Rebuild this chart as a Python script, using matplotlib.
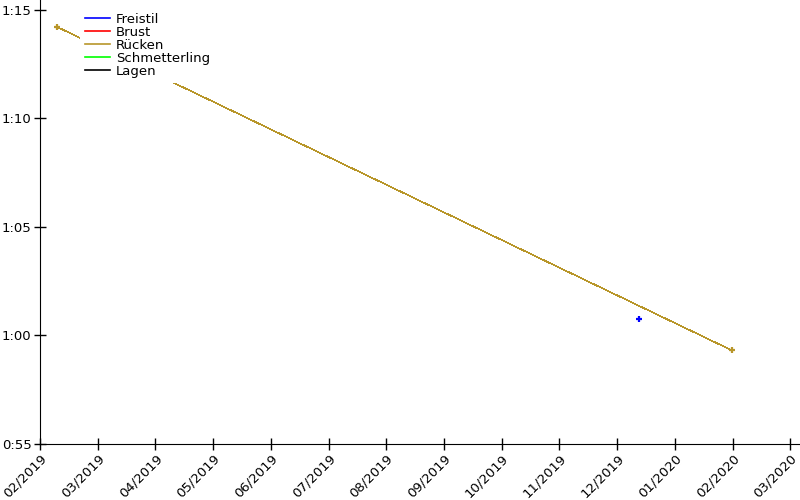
import datetime as dt

import matplotlib
matplotlib.use("Agg")
import matplotlib.pyplot as plt
import matplotlib.dates as mdates
from matplotlib.lines import Line2D
from matplotlib.ticker import FixedLocator, FuncFormatter, MultipleLocator

# times in seconds
freistil_dates = [dt.date(2019, 12, 14)]
freistil_times = [60.74]
brust_dates, brust_times = [], []
ruecken_dates = [dt.date(2019, 2, 10), dt.date(2020, 2, 1)]
ruecken_times = [74.22, 59.31]
schmetterling_dates, schmetterling_times = [], []
lagen_dates, lagen_times = [], []

series = [
    ("Freistil", freistil_dates, freistil_times, "#0000ff"),
    ("Brust", brust_dates, brust_times, "#ff0000"),
    ("Rücken", ruecken_dates, ruecken_times, "#b8962a"),
    ("Schmetterling", schmetterling_dates, schmetterling_times, "#00ff00"),
    ("Lagen", lagen_dates, lagen_times, "#000000"),
]

plt.rcParams.update({"font.family": "DejaVu Sans", "font.size": 9.5})

fig = plt.figure(figsize=(8, 5), dpi=100)
ax = fig.add_axes([0.05, 0.112, 0.95, 0.888])

handles = []
for name, d, t, c in series:
    ax.plot(d, t, color=c, lw=0.4, antialiased=False)
    ax.plot(d, t, color=c, lw=0, marker="+", ms=4, mew=1.6)
    handles.append(Line2D([], [], color=c, lw=1.2, label=name))

# ticks are evenly spaced (one "month" = 30.44 days)
start = mdates.date2num(dt.date(2019, 2, 1))
ax.xaxis.set_major_locator(FixedLocator([start + 30.44 * i for i in range(14)]))
ax.xaxis.set_major_formatter(mdates.DateFormatter("%m/%Y"))
ax.set_xlim(start, start + 400.8)
ax.set_ylim(55, 75.46)

ax.yaxis.set_major_locator(MultipleLocator(5))
ax.yaxis.set_major_formatter(FuncFormatter(lambda v, p: f"{int(v) // 60}:{int(v) % 60:02d}"))

for lab in ax.get_xticklabels():
    lab.set_rotation(45)
    lab.set_ha("right")
    lab.set_rotation_mode("anchor")

ax.tick_params(direction="inout", length=9, width=1, colors="black")
ax.tick_params(axis="x", pad=1)
ax.tick_params(axis="y", pad=1.5)
ax.spines["top"].set_visible(False)
ax.spines["right"].set_visible(False)

leg = ax.legend(handles=handles, loc="upper left", bbox_to_anchor=(0.044, 0.998),
                frameon=True, framealpha=1, edgecolor="none", fancybox=False,
                handlelength=1.9, handletextpad=0.4, labelspacing=0.0,
                borderpad=0.4, fontsize=9.5)

fig.savefig("out.png", dpi=100)
